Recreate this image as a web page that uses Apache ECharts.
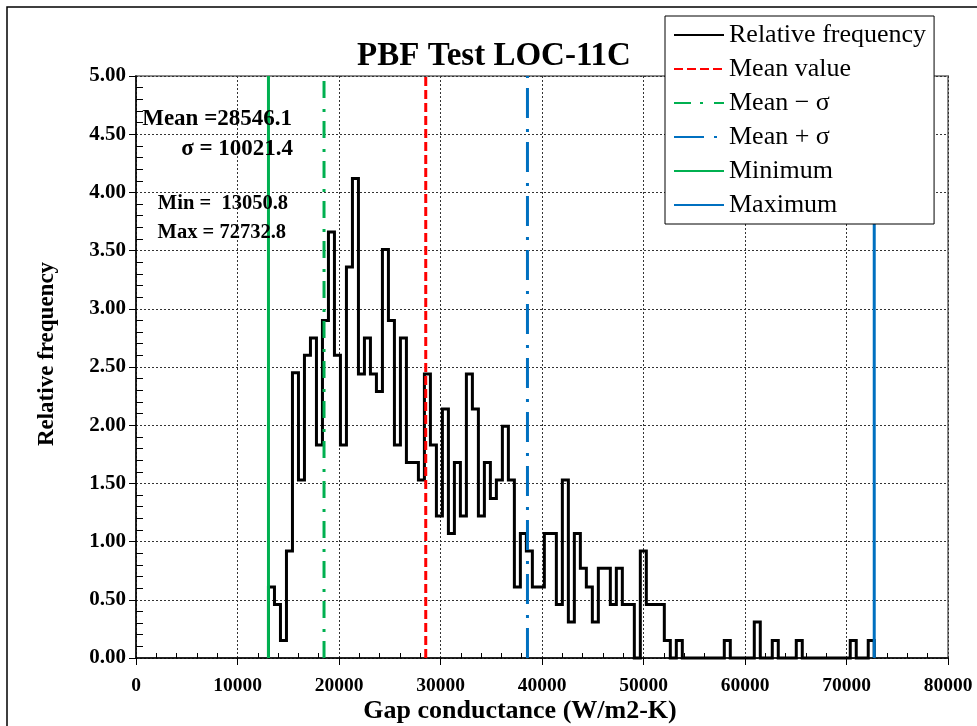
<!DOCTYPE html>
<html>
<head>
<meta charset="utf-8">
<script src="https://cdn.jsdelivr.net/npm/echarts@6/dist/echarts.min.js"></script>
<style>
  html, body { margin: 0; padding: 0; background: #fff; }
  #chart { width: 977px; height: 726px; }
</style>
</head>
<body>
<div id="chart"></div>
<script>
// Summary statistics of the gap conductance sample (W/m2-K)
const meanValue = 28546.1;
const sigmaValue = 10021.4;
const minValue = 13050.8;
const maxValue = 72732.8;

// Relative frequency (%) of equal-width bins spanning [minValue, maxValue]
const binCount = 101;
const relativeFrequency = [
  0.61, 0.46, 0.15, 0.92, 2.45, 1.53, 2.60, 2.75, 1.83, 2.90,
  3.66, 2.60, 1.83, 3.36, 4.12, 2.44, 2.75, 2.44, 2.29, 3.51,
  2.90, 1.83, 2.75, 1.68, 1.68, 1.53, 2.44, 1.83, 1.22, 2.14,
  1.07, 1.68, 1.22, 2.44, 2.14, 1.22, 1.68, 1.37, 1.53, 1.99,
  1.53, 0.61, 1.07, 0.92, 0.61, 0.61, 1.07, 1.07, 0.46, 1.53,
  0.31, 1.07, 0.77, 0.61, 0.31, 0.77, 0.77, 0.46, 0.77, 0.46,
  0.46, 0.00, 0.92, 0.46, 0.46, 0.46, 0.15, 0.00, 0.15, 0.00,
  0.00, 0.00, 0.00, 0.00, 0.00, 0.00, 0.15, 0.00, 0.00, 0.00,
  0.00, 0.31, 0.00, 0.00, 0.15, 0.00, 0.00, 0.00, 0.15, 0.00,
  0.00, 0.00, 0.00, 0.00, 0.00, 0.00, 0.00, 0.15, 0.00, 0.00,
  0.15
];

// Axis ranges
const xRange = { min: 0, max: 80000, interval: 10000 };
const yRange = { min: 0, max: 5, interval: 0.5 };

const titleText = 'PBF Test LOC-11C';
const xName = 'Gap conductance (W/m2-K)';
const yName = 'Relative frequency';
const legendNames = ['Relative frequency', 'Mean value', 'Mean \u2212 \u03c3', 'Mean + \u03c3', 'Minimum', 'Maximum'];

const serif = '"Liberation Serif", "Times New Roman", serif';
const GREEN = '#00B050';
const BLUE = '#0070C0';
const RED = '#FF0000';

// Outline of the histogram as a stepped polyline
const binWidth = (maxValue - minValue) / binCount;
const stepPoints = [[minValue, 0]];
relativeFrequency.forEach(function (v, i) {
  const x0 = minValue + i * binWidth;
  stepPoints.push([x0, v], [x0 + binWidth, v]);
});
stepPoints.push([maxValue, 0]);

function verticalLine(name, x, color, dash, width) {
  return {
    name: name,
    type: 'line',
    data: [[x, yRange.min], [x, yRange.max]],
    symbol: 'none',
    showSymbol: false,
    silent: true,
    animation: false,
    z: 3,
    itemStyle: { color: color },
    lineStyle: { color: color, width: width, type: dash, cap: 'butt' }
  };
}

const chart = echarts.init(document.getElementById('chart'));

const splitStyle = { show: true, lineStyle: { color: '#333', width: 1, type: [2, 2] } };

chart.setOption({
  animation: false,
  backgroundColor: '#fff',
  grid: {
    left: 136, right: 29, top: 76, bottom: 68,
    show: true, borderColor: '#8c8c8c', borderWidth: 2
  },
  xAxis: {
    type: 'value',
    min: xRange.min, max: xRange.max, interval: xRange.interval,
    axisLine: { show: true, onZero: false, lineStyle: { color: '#000', width: 1.5 } },
    axisTick: { show: true, inside: false, length: 7, lineStyle: { color: '#000', width: 1 } },
    minorTick: { show: true, splitNumber: 5, length: -5, lineStyle: { color: '#000', width: 1 } },
    splitLine: splitStyle,
    axisLabel: {
      margin: 18, fontFamily: serif, fontWeight: 'bold', fontSize: 19.5, color: '#000',
      formatter: function (v) { return String(v); }
    }
  },
  yAxis: {
    type: 'value',
    min: yRange.min, max: yRange.max, interval: yRange.interval,
    axisLine: { show: true, onZero: false, lineStyle: { color: '#000', width: 1.5 } },
    axisTick: { show: true, inside: false, length: 7, lineStyle: { color: '#000', width: 1 } },
    minorTick: { show: true, splitNumber: 5, length: -7, lineStyle: { color: '#000', width: 1 } },
    splitLine: splitStyle,
    axisLabel: {
      margin: 10, fontFamily: serif, fontWeight: 'bold', fontSize: 21, color: '#000',
      formatter: function (v) { return v.toFixed(2); }
    }
  },
  legend: {
    orient: 'vertical',
    left: 665, top: 16,
    padding: [6, 8, 6, 8],
    itemGap: 8,
    itemWidth: 50,
    itemHeight: 14,
    backgroundColor: '#fff',
    borderColor: '#000',
    borderWidth: 1,
    data: legendNames,
    itemStyle: { opacity: 0 },
    textStyle: { fontFamily: serif, fontSize: 26, color: '#000', lineHeight: 26 },
    selectedMode: false
  },
  series: [
    {
      name: legendNames[0],
      type: 'line',
      data: stepPoints,
      symbol: 'none',
      showSymbol: false,
      silent: true,
      clip: false,
      z: 2,
      itemStyle: { color: '#000' },
      lineStyle: { color: '#000', width: 3, join: 'miter' }
    },
    verticalLine(legendNames[1], meanValue, RED, [9, 4], 3),
    verticalLine(legendNames[2], meanValue - sigmaValue, GREEN, [17, 9, 3, 11], 3),
    verticalLine(legendNames[3], meanValue + sigmaValue, BLUE, [30, 10, 3, 11], 3),
    verticalLine(legendNames[4], minValue, GREEN, 'solid', 3),
    verticalLine(legendNames[5], maxValue, BLUE, 'solid', 3)
  ],
  graphic: [
    {
      type: 'rect', z: -10, silent: true,
      shape: { x: 7, y: 7, width: 1000, height: 800 },
      style: { fill: 'none', stroke: '#000', lineWidth: 1.5 }
    },
    {
      type: 'text', x: 494, y: 56, silent: true,
      style: { text: titleText, fontFamily: serif, fontWeight: 'bold', fontSize: 33,
               fill: '#000', align: 'center', verticalAlign: 'middle' }
    },
    {
      type: 'text', x: 47, y: 354, rotation: Math.PI / 2, silent: true,
      style: { text: yName, fontFamily: serif, fontWeight: 'bold', fontSize: 23,
               fill: '#000', align: 'center', verticalAlign: 'middle' }
    },
    {
      type: 'text', x: 520, y: 711, silent: true,
      style: { text: xName, fontFamily: serif, fontWeight: 'bold', fontSize: 26,
               fill: '#000', align: 'center', verticalAlign: 'middle' }
    },
    {
      type: 'text', x: 292, y: 119, silent: true, z: 5,
      style: { text: 'Mean =' + meanValue.toFixed(1), fontFamily: serif, fontWeight: 'bold', fontSize: 23,
               fill: '#000', align: 'right', verticalAlign: 'middle' }
    },
    {
      type: 'text', x: 293, y: 149, silent: true, z: 5,
      style: { text: '\u03c3 = ' + sigmaValue.toFixed(1), fontFamily: serif, fontWeight: 'bold', fontSize: 23,
               fill: '#000', align: 'right', verticalAlign: 'middle' }
    },
    {
      type: 'text', x: 288, y: 204, silent: true, z: 5,
      style: { text: 'Min =  ' + minValue.toFixed(1), fontFamily: serif, fontWeight: 'bold', fontSize: 20.5,
               fill: '#000', align: 'right', verticalAlign: 'middle' }
    },
    {
      type: 'text', x: 286, y: 233, silent: true, z: 5,
      style: { text: 'Max = ' + maxValue.toFixed(1), fontFamily: serif, fontWeight: 'bold', fontSize: 20.5,
               fill: '#000', align: 'right', verticalAlign: 'middle' }
    }
  ]
});
</script>
</body>
</html>
